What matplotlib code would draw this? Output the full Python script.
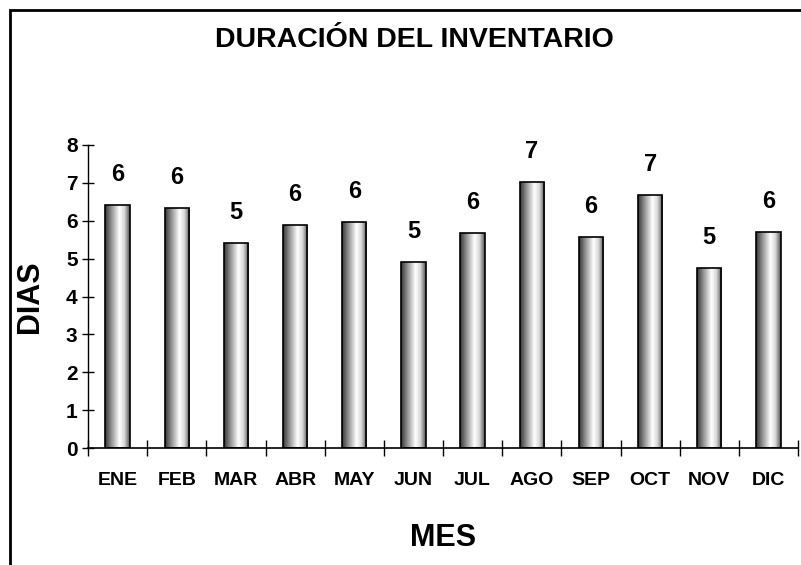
import matplotlib
matplotlib.use("Agg")
import matplotlib.pyplot as plt
import numpy as np
from matplotlib.colors import LinearSegmentedColormap
from matplotlib.patches import Rectangle

# datos
meses = ["ENE", "FEB", "MAR", "ABR", "MAY", "JUN", "JUL", "AGO", "SEP", "OCT", "NOV", "DIC"]
dias = [6.42, 6.33, 5.41, 5.89, 5.98, 4.92, 5.67, 7.03, 5.58, 6.68, 4.75, 5.71]
y_ticks = [0, 1, 2, 3, 4, 5, 6, 7, 8]

plt.rcParams['font.family'] = ['Liberation Sans', 'DejaVu Sans']
plt.rcParams['font.weight'] = 'bold'

fig = plt.figure(figsize=(8.01, 5.65), dpi=100)
ax = fig.add_axes([88/801, 117/565, 710/801, 303/565])

x = np.arange(len(meses))
bars = ax.bar(x, dias, width=0.41, color='none', edgecolor='black', linewidth=1.2, zorder=3)

# degradado tipo cilindro dentro de cada barra
cmap = LinearSegmentedColormap.from_list("cil", [(0.0, "#353535"), (0.25, "#8f8f8f"),
                                                (0.58, "#ffffff"), (0.78, "#d8d8d8"), (1.0, "#505050")])
grad = np.linspace(0, 1, 256).reshape(1, -1)
for b in bars:
    x0, y0 = b.get_x(), b.get_y()
    im = ax.imshow(grad, cmap=cmap, aspect='auto', zorder=2,
                   extent=[x0, x0 + b.get_width(), y0, y0 + b.get_height()])
    im.set_clip_path(b)

# etiquetas de valor redondeadas
for xi, v in zip(x, dias):
    ax.text(xi, v + 0.8, "%d" % round(v), ha='center', va='center', fontsize=17,
            fontweight='bold', clip_on=False)

ax.set_xlim(-0.5, len(meses) - 0.5)
ax.set_ylim(0, 8)
ax.set_yticks(y_ticks)
ax.set_xticks(x)
ax.set_xticklabels(meses, fontsize=14, fontweight='bold')
ax.set_xticks(np.arange(-0.5, len(meses)), minor=True)
ax.tick_params(axis='x', which='major', length=0, pad=17)
ax.tick_params(axis='x', which='minor', direction='inout', length=12, width=1)
ax.tick_params(axis='y', direction='inout', length=9, width=1, labelsize=15, pad=3)
for lab in ax.get_yticklabels():
    lab.set_fontweight('bold')

for s in ['top', 'right']:
    ax.spines[s].set_visible(False)
ax.spines['left'].set_linewidth(1)
ax.spines['bottom'].set_linewidth(1.2)

fig.text(0.518, 1 - 40/565, "DURACIÓN DEL INVENTARIO", ha='center', va='center',
         fontsize=20.5, fontweight='bold')
fig.text(30/801, 1 - 297/565, "DIAS", rotation=90, ha='center', va='center',
         fontsize=22, fontweight='bold')
fig.text(443/801, 1 - 538/565, "MES", ha='center', va='center',
         fontsize=22, fontweight='bold')

# marco exterior del grafico
fig.patches.append(Rectangle((10/801, -0.1), 1.5, 1 - 10/565 + 0.1, transform=fig.transFigure,
                             fill=False, edgecolor='black', linewidth=2))

fig.savefig("out.png", dpi=100)
